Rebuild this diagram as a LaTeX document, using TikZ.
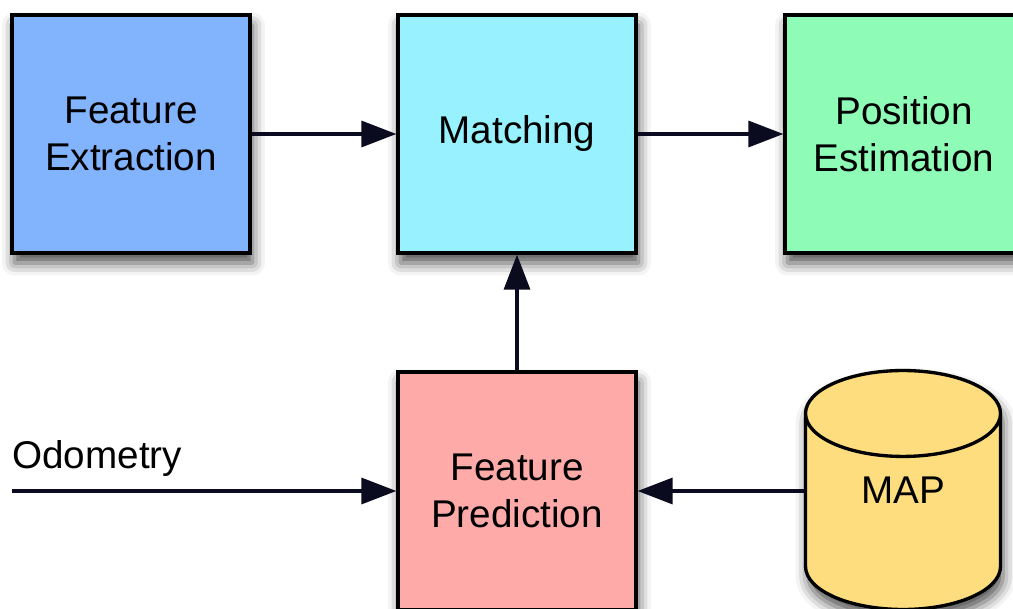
\documentclass[tikz,border=0pt]{standalone}
\usepackage{fontspec}
\setmainfont{Liberation Sans}
\usetikzlibrary{shapes.geometric,shadows.blur,arrows.meta}

\definecolor{extractblue}{HTML}{82B4FE}
\definecolor{matchcyan}{HTML}{98F1FE}
\definecolor{estgreen}{HTML}{8EFCB6}
\definecolor{predpink}{HTML}{FEAAA8}
\definecolor{mapyellow}{HTML}{FEDD7E}
\definecolor{linenavy}{HTML}{0B0B1F}

\tikzset{
	dropshade/.style={blur shadow={shadow xshift=0.05cm, shadow yshift=-0.2cm, shadow blur radius=0.25cm, shadow opacity=70}},
	block/.style={draw=black, line width=1.9pt, minimum width=4.76cm, minimum height=4.76cm,
		align=center, font=\fontsize{22}{26.7}\selectfont, dropshade},
	db/.style={cylinder, shape border rotate=90, aspect=0.9, draw=black, line width=1.9pt,
		minimum width=3.9cm, minimum height=4.78cm, font=\fontsize{22}{26.7}\selectfont, dropshade}, 
	flow/.style={draw=linenavy, line width=1.9pt, -{Triangle[length=0.7cm, width=0.52cm]}}
}

\begin{document}
\begin{tikzpicture}[x=0.02cm, y=-0.02cm]
	\useasboundingbox (0,0) rectangle (1013,608);
	\node[block, fill=extractblue] (fe) at (131,134) {Feature\\Extraction};
	\node[block, fill=matchcyan] (match) at (517,134) {Matching};
	\node[block, fill=estgreen] (pe) at (904,134) {Position\\Estimation};
	\node[block, fill=predpink] (fp) at (517,491) {Feature\\Prediction};
	% the cylinder keeps its ends from the phantom text, the label sits at its middle
	\node[db, fill=mapyellow, anchor=shape center] (map) at (903,490) {\phantom{MAP}};
	\node[font=\fontsize{22}{26.7}\selectfont] (maptext) at (map.shape center) {MAP};
	\node[anchor=base west, inner sep=0pt, font=\fontsize{22}{26.7}\selectfont] (odolabel) at (12,468) {Odometry};
	\coordinate (odo) at (12,491);

	\draw[flow] (fe) -- (match);
	\draw[flow] (match) -- (pe);
	\draw[flow] (fp) -- (match);
	\draw[flow] (odo) -- (fp);
	\draw[flow] (map.west |- fp) -- (fp);
\end{tikzpicture}
\end{document}
